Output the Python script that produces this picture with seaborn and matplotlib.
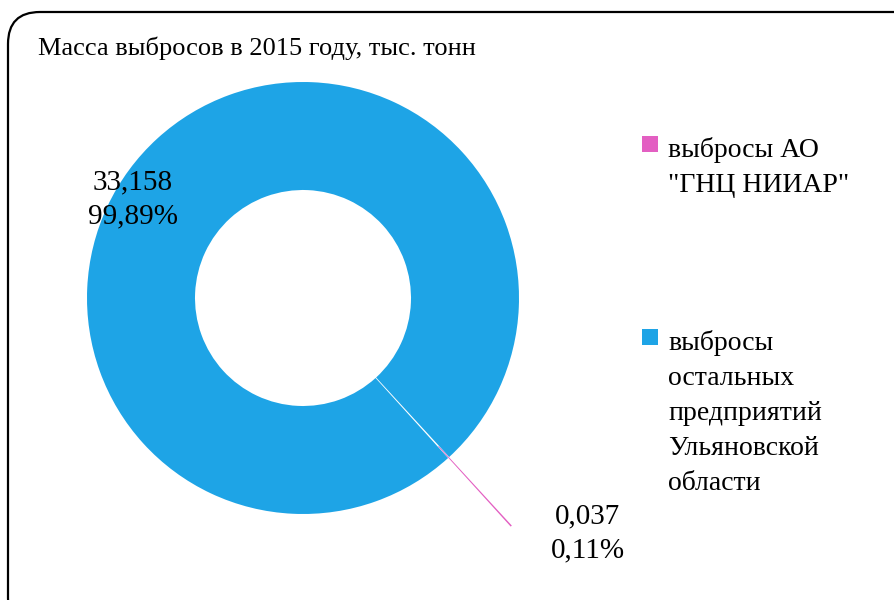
import seaborn as sns
import matplotlib.pyplot as plt
from matplotlib.patches import FancyBboxPatch, Rectangle

# data
labels = ['выбросы АО\n"ГНЦ НИИАР"',
          'выбросы\nостальных\nпредприятий\nУльяновской\nобласти']
values = [0.037, 33.158]
colors = ['#e35fc2', '#1ea4e6']
title = 'Масса выбросов в 2015 году, тыс. тонн'

sns.set_theme(style='white')
plt.rcParams['font.family'] = ['Liberation Serif', 'DejaVu Serif']
plt.rcParams['text.color'] = 'black'

fig = plt.figure(figsize=(8.94, 6), dpi=100)

# rounded frame (right/bottom cut off like the original)
frame = FancyBboxPatch((8, -30), 930, 618, boxstyle='round,pad=0,rounding_size=32',
                       transform=None, fill=False, edgecolor='black', linewidth=1.6)
fig.patches.append(frame)

# donut, radius 1 = 216 px, centre at (303, 298) from top-left
ax = fig.add_axes([3 / 894, 2 / 600, 600 / 894, 1.0])

wedges, _ = ax.pie(values, colors=colors, startangle=-47.4, counterclock=False,
                   explode=[0.43, 0], wedgeprops=dict(width=0.5, linewidth=0))
ax.set_xlim(-300 / 216, 300 / 216)
ax.set_ylim(-300 / 216, 300 / 216)
ax.set_aspect('equal')
ax.axis('off')
for w in wedges:
    w.set_clip_on(False)
# blue drawn over the pink inner part
wedges[1].set_zorder(3)
wedges[0].set_zorder(2)

total = sum(values)
def fmt(v):
    return ('%.3f' % v).replace('.', ',') + '\n' + ('%.2f%%' % (v / total * 100)).replace('.', ',')

ax.text(-0.787, 0.458, fmt(values[1]), ha='center', va='center', fontsize=21,
        linespacing=1.4, zorder=5)
ax.text(1.319, -1.09, fmt(values[0]), ha='center', va='center', fontsize=21,
        linespacing=1.4, zorder=5)

fig.text(38 / 894, 1 - 48 / 600, title, ha='left', va='center', fontsize=19)

# legend
leg_y = [144, 337]
for lab, col, y in zip(labels, colors, leg_y):
    fig.patches.append(Rectangle((642, 600 - y - 8), 16, 16, transform=None,
                                 facecolor=col, edgecolor='none'))
    fig.text(668 / 894, 1 - (y - 7) / 600, lab, ha='left', va='top', fontsize=20,
             linespacing=1.52)

fig.savefig('out.png', dpi=100)
